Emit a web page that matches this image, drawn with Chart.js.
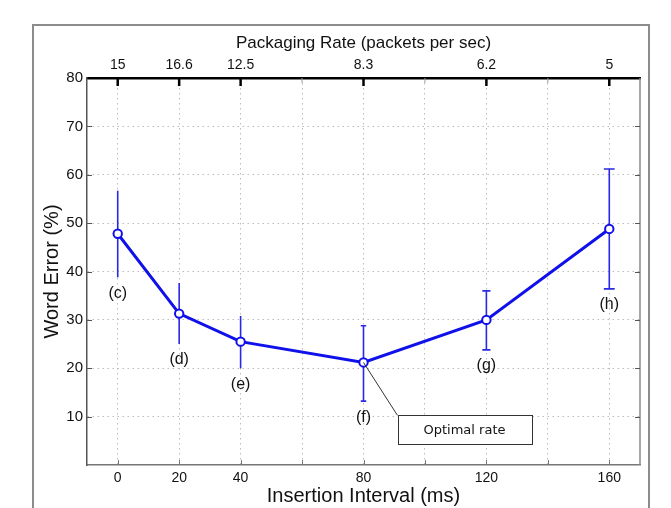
<!DOCTYPE html>
<html><head><meta charset="utf-8">
<script src="https://cdn.jsdelivr.net/npm/chart.js@4/dist/chart.umd.min.js"></script>
<style>
html,body{margin:0;padding:0;background:#fff;}
#wrap{position:relative;width:671px;height:508px;overflow:hidden;background:#fff;}
#frame{position:absolute;left:32px;top:24px;width:618px;height:520px;border:2px solid #8c8c8c;box-sizing:border-box;}
canvas{position:absolute;left:0;top:0;}
</style></head><body>
<div id="wrap"><div id="frame"></div><canvas id="c" width="671" height="508"></canvas></div>
<script>
const intervals = [0, 20, 40, 80, 120, 160];
const wordError = [47.8, 31.3, 25.5, 21.2, 30.0, 48.8];
const errorLow = [38.8, 25.0, 20.0, 13.2, 23.8, 36.4];
const errorHigh = [56.7, 37.6, 30.8, 28.8, 36.0, 61.2];
const pointLabels = ['(c)', '(d)', '(e)', '(f)', '(g)', '(h)'];
const packagingRates = ['15', '16.6', '12.5', '8.3', '6.2', '5'];
const xTickValues = [0, 20, 40, 60, 80, 100, 120, 140, 160];
const yTickValues = [10, 20, 30, 40, 50, 60, 70, 80];
const annotationText = 'Optimal rate';
const annotationIndex = 3;

const FONT = 'Liberation Sans, Arial, sans-serif';
const BLUE = '#1010ea';

const decor = {
  id: 'decor',
  beforeDatasetsDraw(chart) {
    const {ctx, scales: {x, y}} = chart;
    ctx.save();
    ctx.strokeStyle = '#2a2ae4';
    ctx.lineWidth = 1.6;
    const x0 = x.getPixelForValue(0);
    intervals.forEach((v, i) => {
      const px = x.getPixelForValue(v);
      const top = y.getPixelForValue(errorHigh[i]);
      const bot = y.getPixelForValue(errorLow[i]);
      ctx.beginPath();
      ctx.moveTo(px, top); ctx.lineTo(px, bot);
      const cap = (px - x0) * 0.011;
      if (cap > 1.5) {
        ctx.moveTo(px - cap, top); ctx.lineTo(px + cap, top);
        ctx.moveTo(px - cap, bot); ctx.lineTo(px + cap, bot);
      }
      ctx.stroke();
    });
    ctx.restore();
  },
  afterDraw(chart) {
    const {ctx, chartArea: a, scales: {x, y}} = chart;
    ctx.save();
    // right border
    ctx.strokeStyle = '#888'; ctx.lineWidth = 1.5;
    ctx.beginPath(); ctx.moveTo(a.right, a.top); ctx.lineTo(a.right, a.bottom); ctx.stroke();
    // bottom ticks
    ctx.strokeStyle = '#777'; ctx.lineWidth = 1;
    xTickValues.forEach(v => {
      const px = Math.round(x.getPixelForValue(v)) + 0.5;
      ctx.beginPath(); ctx.moveTo(px, a.bottom); ctx.lineTo(px, a.bottom - 5); ctx.stroke();
    });
    // top ticks
    xTickValues.forEach(v => {
      const px = x.getPixelForValue(v);
      ctx.beginPath();
      if (intervals.includes(v)) {
        ctx.strokeStyle = '#000'; ctx.lineWidth = 2.5;
        ctx.moveTo(px, a.top); ctx.lineTo(px, a.top + 8);
      } else {
        ctx.strokeStyle = '#999'; ctx.lineWidth = 1;
        ctx.moveTo(px, a.top); ctx.lineTo(px, a.top + 5);
      }
      ctx.stroke();
    });
    // left/right ticks
    ctx.strokeStyle = '#555'; ctx.lineWidth = 1;
    yTickValues.forEach(v => {
      if (v === 80) return;
      const py = Math.round(y.getPixelForValue(v)) + 0.5;
      ctx.beginPath();
      ctx.moveTo(a.left, py); ctx.lineTo(a.left + 5, py);
      ctx.moveTo(a.right, py); ctx.lineTo(a.right - 5, py);
      ctx.stroke();
    });
    // point labels
    ctx.fillStyle = '#111';
    ctx.font = '16px ' + FONT;
    ctx.textAlign = 'center'; ctx.textBaseline = 'middle';
    intervals.forEach((v, i) => {
      ctx.fillText(pointLabels[i], x.getPixelForValue(v), y.getPixelForValue(errorLow[i]) + 16);
    });
    // annotation
    const px = x.getPixelForValue(intervals[annotationIndex]);
    const py = y.getPixelForValue(wordError[annotationIndex]);
    const bx = px + 34, by = py + 53, bw = 134, bh = 29;
    ctx.strokeStyle = '#333'; ctx.lineWidth = 1;
    ctx.beginPath(); ctx.moveTo(px, py); ctx.lineTo(bx, by); ctx.stroke();
    ctx.fillStyle = '#fff';
    ctx.fillRect(bx, by, bw, bh);
    ctx.strokeRect(Math.round(bx) + 0.5, Math.round(by) + 0.5, bw, bh);
    ctx.fillStyle = '#111';
    ctx.font = '13px DejaVu Sans, sans-serif';
    ctx.fillText(annotationText, bx + bw / 2, by + bh / 2 + 1);
    ctx.restore();
  }
};

const tickFont = {family: FONT, size: 14};

new Chart(document.getElementById('c'), {
  type: 'line',
  data: {
    datasets: [{
      data: intervals.map((v, i) => ({x: v, y: wordError[i]})),
      borderColor: BLUE,
      borderWidth: 3,
      pointRadius: 4.2,
      pointBorderWidth: 2,
      pointBackgroundColor: '#fff',
      pointBorderColor: BLUE,
      tension: 0,
      xAxisID: 'x',
      yAxisID: 'y'
    }]
  },
  options: {
    responsive: false,
    animation: false,
    devicePixelRatio: 1,
    layout: {padding: {left: 0, right: 31, top: 0, bottom: 0}},
    plugins: {legend: {display: false}, tooltip: {enabled: false}},
    scales: {
      x: {
        type: 'linear', position: 'bottom', min: -10, max: 170,
        afterBuildTicks: s => { s.ticks = xTickValues.map(v => ({value: v})); },
        afterFit: s => { s.height = 43; },
        ticks: {
          callback: v => intervals.includes(v) ? String(v) : '',
          font: tickFont, color: '#111', padding: 5, autoSkip: false, maxRotation: 0
        },
        grid: {color: '#bcbcbc', lineWidth: 1, drawTicks: false},
        border: {display: true, color: '#777', width: 1.5, dash: [1.5, 3.5]},
        title: {display: true, text: 'Insertion Interval (ms)', font: {family: FONT, size: 20}, color: '#111', padding: {top: 0, bottom: 0}}
      },
      x2: {
        type: 'linear', position: 'top', min: -10, max: 170,
        afterBuildTicks: s => { s.ticks = xTickValues.map(v => ({value: v})); },
        afterFit: s => { s.height = 78; },
        ticks: {
          callback: v => { const i = intervals.indexOf(v); return i >= 0 ? packagingRates[i] : ''; },
          font: tickFont, color: '#111', padding: 4, autoSkip: false, maxRotation: 0
        },
        grid: {display: false, drawTicks: false},
        border: {display: true, color: '#000', width: 2.5},
        title: {display: true, text: 'Packaging Rate (packets per sec)', font: {family: FONT, size: 17}, color: '#111', padding: {top: 33, bottom: 0}}
      },
      y: {
        type: 'linear', position: 'left', min: 0, max: 80,
        afterBuildTicks: s => { s.ticks = yTickValues.map(v => ({value: v})); },
        afterFit: s => { s.width = 87; },
        ticks: {font: {family: FONT, size: 15}, color: '#111', padding: 4},
        grid: {color: '#bcbcbc', lineWidth: 1, drawTicks: false},
        border: {display: true, color: '#555', width: 1.5, dash: [1.5, 3.5]},
        title: {display: true, text: 'Word Error (%)', font: {family: FONT, size: 20}, color: '#111', padding: {top: 40, bottom: 0}}
      }
    }
  },
  plugins: [decor]
});
</script>
</body></html>
